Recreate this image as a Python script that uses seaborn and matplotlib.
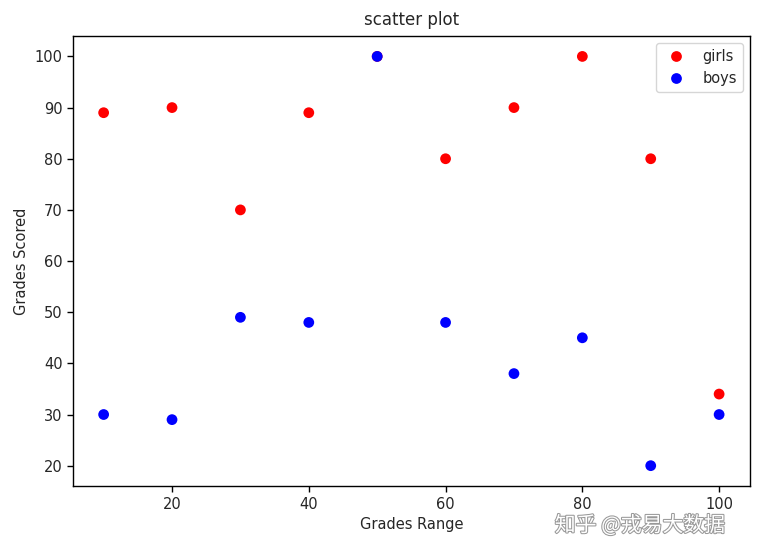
import pandas as pd
import seaborn as sns
import matplotlib.pyplot as plt
import matplotlib.patheffects as pe

# data
grades_range = [10, 20, 30, 40, 50, 60, 70, 80, 90, 100]
girls_grades = [89, 90, 70, 89, 100, 80, 90, 100, 80, 34]
boys_grades = [30, 29, 49, 48, 100, 48, 38, 45, 20, 30]

df = pd.DataFrame({
    'Grades Range': grades_range * 2,
    'Grades Scored': girls_grades + boys_grades,
    'group': ['girls'] * len(girls_grades) + ['boys'] * len(boys_grades),
})

sns.set_style('white')
plt.rcParams['font.family'] = ['DejaVu Sans']
plt.rcParams['font.size'] = 10.5

fig = plt.figure(figsize=(7.59, 5.45), dpi=100)
ax = fig.add_axes([0.096, 0.108, 0.892, 0.826])

sns.scatterplot(data=df, x='Grades Range', y='Grades Scored', hue='group',
                palette={'girls': 'red', 'boys': 'blue'}, s=60, linewidth=0,
                ax=ax)

for s in ax.spines.values():
    s.set_color('black')
    s.set_linewidth(1.0)
ax.tick_params(axis='both', which='major', direction='out', length=4, width=1,
               color='black', labelsize=10.5, bottom=True, left=True)
ax.set_xticks([20, 40, 60, 80, 100])
ax.set_yticks([20, 30, 40, 50, 60, 70, 80, 90, 100])
ax.set_xlim(5.5, 104.5)
ax.set_ylim(16, 104)
ax.set_xlabel('Grades Range', fontsize=10.5)
ax.set_ylabel('Grades Scored', fontsize=10.5)
ax.set_title('scatter plot', fontsize=12, pad=8)

leg = ax.legend(loc='upper right', fontsize=10.5, frameon=True)
leg.get_frame().set_edgecolor('#cccccc')

# watermark (bottom right corner), kept just below the tick labels
fig.text(0.731, 0.056, '知乎 @戎易大数据', fontsize=15, color='white',
         family=['Noto Sans CJK SC', 'DejaVu Sans'], va='top',
         path_effects=[pe.withStroke(linewidth=1.5, foreground='#999999')])

plt.savefig('out.png', dpi=100)
